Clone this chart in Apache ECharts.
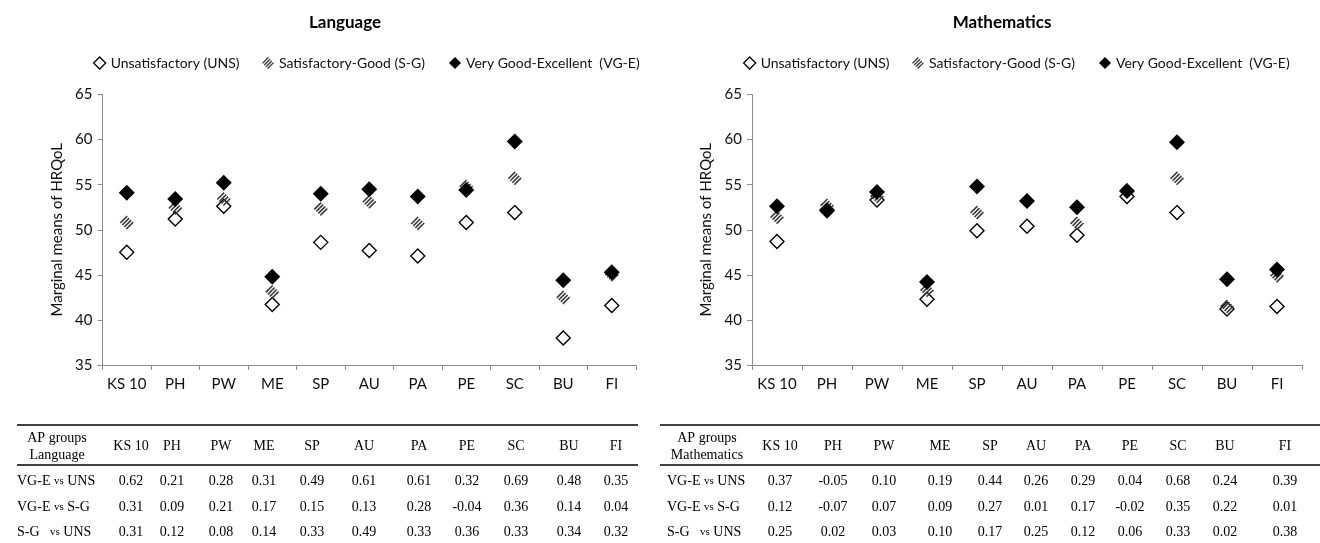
<!DOCTYPE html>
<html>
<head>
<meta charset="utf-8">
<script src="https://cdn.jsdelivr.net/npm/echarts@6/dist/echarts.min.js"></script>
<style>
html,body{margin:0;padding:0;background:#fff;}
#main{width:1320px;height:543px;}
</style>
</head>
<body>
<div id="main"></div>
<script>
// ---------------- DATA ----------------
const categories = ['KS 10', 'PH', 'PW', 'ME', 'SP', 'AU', 'PA', 'PE', 'SC', 'BU', 'FI'];
const yTicks = [35, 40, 45, 50, 55, 60, 65];
const seriesNames = ['Unsatisfactory (UNS)', 'Satisfactory-Good (S-G)', 'Very Good-Excellent  (VG-E)'];

// Language marginal means
const langUNS = [47.5, 51.2, 52.6, 41.7, 48.6, 47.7, 47.1, 50.8, 51.9, 38.0, 41.6];
const langSG  = [50.8, 52.4, 53.4, 43.1, 52.3, 53.1, 50.7, 54.8, 55.7, 42.5, 45.0];
const langVGE = [54.1, 53.4, 55.2, 44.8, 54.0, 54.5, 53.7, 54.4, 59.8, 44.4, 45.3];

// Mathematics marginal means
const mathUNS = [48.7, 52.2, 53.3, 42.3, 49.9, 50.4, 49.4, 53.7, 51.9, 41.2, 41.5];
const mathSG  = [51.4, 52.7, 53.7, 43.3, 51.9, 53.2, 50.7, 54.4, 55.7, 41.5, 44.9];
const mathVGE = [52.6, 52.1, 54.2, 44.2, 54.8, 53.2, 52.5, 54.3, 59.7, 44.5, 45.6];

// Effect-size tables
const rowLabels = ['VG-E vs UNS', 'VG-E vs S-G', 'S-G   vs UNS'];
const langVGEvsUNS = [0.62, 0.21, 0.28, 0.31, 0.49, 0.61, 0.61, 0.32, 0.69, 0.48, 0.35];
const langVGEvsSG  = [0.31, 0.09, 0.21, 0.17, 0.15, 0.13, 0.28, -0.04, 0.36, 0.14, 0.04];
const langSGvsUNS  = [0.31, 0.12, 0.08, 0.14, 0.33, 0.49, 0.33, 0.36, 0.33, 0.34, 0.32];
const mathVGEvsUNS = [0.37, -0.05, 0.10, 0.19, 0.44, 0.26, 0.29, 0.04, 0.68, 0.24, 0.39];
const mathVGEvsSG  = [0.12, -0.07, 0.07, 0.09, 0.27, 0.01, 0.17, -0.02, 0.35, 0.22, 0.01];
const mathSGvsUNS  = [0.25, 0.02, 0.03, 0.10, 0.17, 0.25, 0.12, 0.06, 0.33, 0.02, 0.38];

// ---------------- LAYOUT / STYLE ----------------
const FONT = 'Lato, "Open Sans", sans-serif';
const SERIF = '"Liberation Serif", "Times New Roman", serif';
const TXT = '#111';
const AXIS = '#8a8a8a';

// hatched diamond symbol (upward diagonal stripes inside a diamond)
function hatchPath() {
  const stripes = [[-6.6, -4.6], [-3.1, -1.1], [0.4, 2.4], [3.9, 5.9]];
  const D = 6;
  let p = '';
  stripes.forEach(([u1, u2]) => {
    const pts = [
      [(u1 + 14 - D) / 2, (u1 + 14 + D) / 2],
      [(u1 + 14 + D) / 2, (u1 + 14 - D) / 2],
      [(u2 + 14 + D) / 2, (u2 + 14 - D) / 2],
      [(u2 + 14 - D) / 2, (u2 + 14 + D) / 2]
    ];
    p += 'M' + pts.map(q => q[0].toFixed(2) + ' ' + q[1].toFixed(2)).join(' L') + ' Z ';
  });
  return 'path://' + p;
}
const HATCH = hatchPath();

const symUNS = { symbol: 'diamond', symbolSize: 14, itemStyle: { color: '#fff', borderColor: '#000', borderWidth: 1.4, opacity: 1 } };
const symSG  = { symbol: HATCH, symbolSize: 14, itemStyle: { color: '#3c3c3c', opacity: 1 } };
const symVGE = { symbol: 'diamond', symbolSize: 16, itemStyle: { color: '#000', opacity: 1 } };

const grids = [
  { left: 102.5, right: 1320 - 636, top: 94.5, bottom: 543 - 365 },
  { left: 752, right: 1320 - 1302, top: 94.5, bottom: 543 - 365 }
];

function xAx(i) {
  return {
    type: 'category', gridIndex: i, data: categories, boundaryGap: true,
    axisLine: { lineStyle: { color: AXIS, width: 1 } },
    axisTick: { show: true, length: 5, lineStyle: { color: AXIS } },
    axisLabel: { color: TXT, fontFamily: FONT, fontSize: 15, margin: 12, interval: 0 },
    splitLine: { show: false }
  };
}
function yAx(i) {
  return {
    type: 'value', gridIndex: i, min: yTicks[0], max: yTicks[yTicks.length - 1], interval: 5,
    name: 'Marginal means of HRQoL', nameLocation: 'middle', nameGap: 38,
    nameTextStyle: { color: TXT, fontFamily: FONT, fontSize: 15 },
    axisLine: { show: true, lineStyle: { color: AXIS, width: 1 } },
    axisTick: { show: true, length: 5, lineStyle: { color: AXIS } },
    axisLabel: { color: TXT, fontFamily: FONT, fontSize: 15, margin: 10 },
    splitLine: { show: false }
  };
}
function sc(name, data, i, sym, z) {
  return Object.assign({ type: 'scatter', name, data, xAxisIndex: i, yAxisIndex: i, z, silent: true }, sym);
}

function legendItem(name, left, icon, itemStyle) {
  return {
    data: [{ name, icon, itemStyle }], left, top: 51, itemWidth: 12, itemHeight: 12,
    textStyle: { color: TXT, fontFamily: FONT, fontSize: 14 }, selectedMode: false
  };
}

// ---------------- TABLES ----------------
const leftColX  = [131, 172, 221, 264, 312, 364, 419, 467, 516, 569, 616];
const rightColX = [780, 833, 884, 940, 990, 1036, 1083, 1130, 1178, 1225, 1285];
const rowY = [481, 507, 532];

function buildTable(colX, subject, rows, lineX1, lineX2, labelX, headX) {
  const els = [];
  els.push({ type: 'line', shape: { x1: lineX1, y1: 425, x2: lineX2, y2: 425 }, style: { stroke: '#000', lineWidth: 1.3 } });
  els.push({ type: 'line', shape: { x1: lineX1, y1: 465, x2: lineX2, y2: 465 }, style: { stroke: '#000', lineWidth: 1.3 } });
  els.push({ type: 'text', x: headX, y: 438, style: { text: 'AP groups', font: '14px ' + SERIF, fill: '#000', align: 'center', verticalAlign: 'middle' } });
  els.push({ type: 'text', x: headX, y: 455, style: { text: subject, font: '14px ' + SERIF, fill: '#000', align: 'center', verticalAlign: 'middle' } });
  categories.forEach((c, j) => {
    els.push({ type: 'text', x: colX[j], y: 446, style: { text: c, font: '14px ' + SERIF, fill: '#000', align: 'center', verticalAlign: 'middle' } });
  });
  rows.forEach((vals, r) => {
    const parts = rowLabels[r].split('vs');
    els.push({
      type: 'text', x: labelX, y: rowY[r],
      style: {
        text: '{a|' + parts[0] + '}{b|vs}{a|' + parts[1] + '}',
        rich: { a: { font: '14px ' + SERIF, fill: '#000' }, b: { font: '11px ' + SERIF, fill: '#000' } },
        align: 'left', verticalAlign: 'middle'
      }
    });
    vals.forEach((v, j) => {
      els.push({ type: 'text', x: colX[j], y: rowY[r], style: { text: v.toFixed(2), font: '14px ' + SERIF, fill: '#000', align: 'center', verticalAlign: 'middle' } });
    });
  });
  return els;
}

const graphics = []
  .concat(buildTable(leftColX, 'Language', [langVGEvsUNS, langVGEvsSG, langSGvsUNS], 17, 638, 17, 57))
  .concat(buildTable(rightColX, 'Mathematics', [mathVGEvsUNS, mathVGEvsSG, mathSGvsUNS], 660, 1320, 667, 707));

const chart = echarts.init(document.getElementById('main'), null, { renderer: 'canvas' });
chart.setOption({
  animation: false,
  backgroundColor: '#fff',
  title: [
    { text: 'Language', left: 340, top: 9, textAlign: 'center', textStyle: { fontFamily: FONT, fontWeight: 'bold', fontSize: 17, color: '#000' } },
    { text: 'Mathematics', left: 997, top: 9, textAlign: 'center', textStyle: { fontFamily: FONT, fontWeight: 'bold', fontSize: 17, color: '#000' } }
  ],
  legend: [
    legendItem(seriesNames[0], 88, 'diamond', { color: '#fff', borderColor: '#000', borderWidth: 1.3 }),
    legendItem(seriesNames[1], 257, HATCH, { color: '#3c3c3c' }),
    legendItem(seriesNames[2], 444, 'diamond', { color: '#000' }),
    legendItem(seriesNames[0], 738, 'diamond', { color: '#fff', borderColor: '#000', borderWidth: 1.3 }),
    legendItem(seriesNames[1], 907, HATCH, { color: '#3c3c3c' }),
    legendItem(seriesNames[2], 1094, 'diamond', { color: '#000' })
  ],
  grid: grids,
  xAxis: [xAx(0), xAx(1)],
  yAxis: [yAx(0), yAx(1)],
  series: [
    sc(seriesNames[0], langUNS, 0, symUNS, 2),
    sc(seriesNames[1], langSG, 0, symSG, 3),
    sc(seriesNames[2], langVGE, 0, symVGE, 4),
    sc(seriesNames[0], mathUNS, 1, symUNS, 2),
    sc(seriesNames[1], mathSG, 1, symSG, 3),
    sc(seriesNames[2], mathVGE, 1, symVGE, 4)
  ],
  graphic: graphics
});
</script>
</body>
</html>
